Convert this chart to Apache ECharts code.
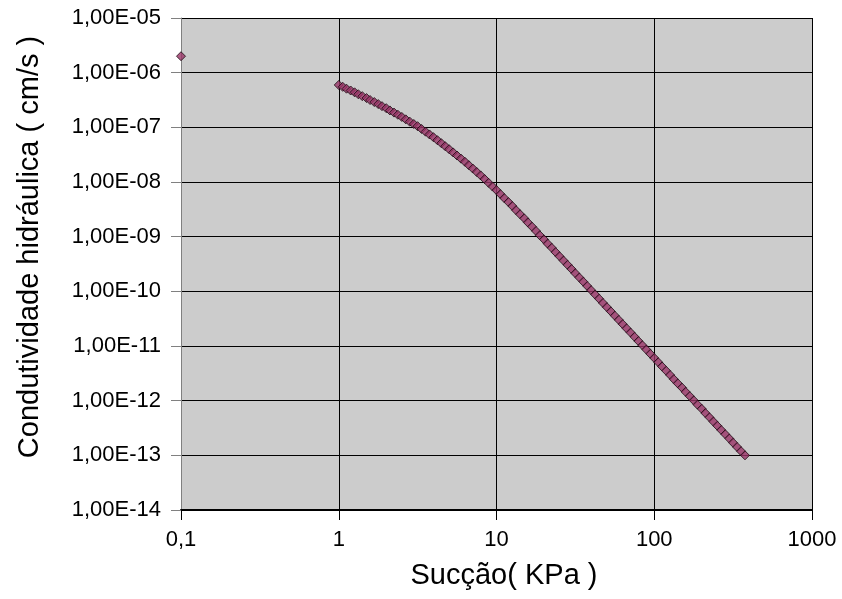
<!DOCTYPE html>
<html>
<head>
<meta charset="utf-8">
<script src="https://cdn.jsdelivr.net/npm/echarts@6/dist/echarts.min.js"></script>
<style>html,body{margin:0;padding:0;background:#fff}#c{width:842px;height:599px}</style>
</head>
<body>
<div id="c"></div>
<script>
// Suction (KPa)
const suction = [0.1,
  1.00, 1.06, 1.12, 1.19, 1.26, 1.33, 1.41, 1.50, 1.58, 1.68, 1.78, 1.88, 2.00, 2.11, 2.24, 2.37, 2.51, 2.66, 2.82, 2.99,
  3.16, 3.35, 3.55, 3.76, 3.98, 4.22, 4.47, 4.73, 5.01, 5.31, 5.62, 5.96, 6.31, 6.68, 7.08, 7.50, 7.94, 8.41, 8.91, 9.44,
  10.0, 10.6, 11.2, 11.9, 12.6, 13.3, 14.1, 15.0, 15.8, 16.8, 17.8, 18.8, 20.0, 21.1, 22.4, 23.7, 25.1, 26.6, 28.2, 29.9,
  31.6, 33.5, 35.5, 37.6, 39.8, 42.2, 44.7, 47.3, 50.1, 53.1, 56.2, 59.6, 63.1, 66.8, 70.8, 75.0, 79.4, 84.1, 89.1, 94.4,
  100, 106, 112, 119, 126, 133, 141, 150, 158, 168, 178, 188, 200, 211, 224, 237, 251, 266, 282, 299,
  316, 335, 355, 376];
// Hydraulic conductivity (cm/s)
const conductivity = [2.0e-6,
  5.96e-7, 5.51e-7, 5.09e-7, 4.72e-7, 4.37e-7, 4.03e-7, 3.72e-7, 3.43e-7, 3.16e-7, 2.90e-7, 2.66e-7, 2.44e-7, 2.24e-7, 2.04e-7, 1.86e-7, 1.70e-7, 1.55e-7, 1.40e-7, 1.27e-7, 1.15e-7,
  1.05e-7, 9.33e-8, 8.32e-8, 7.41e-8, 6.61e-8, 5.82e-8, 5.13e-8, 4.52e-8, 3.98e-8, 3.48e-8, 3.05e-8, 2.67e-8, 2.34e-8, 2.03e-8, 1.76e-8, 1.52e-8, 1.32e-8, 1.13e-8, 9.66e-9, 8.26e-9,
  7.08e-9, 5.98e-9, 5.07e-9, 4.29e-9, 3.63e-9, 3.05e-9, 2.57e-9, 2.16e-9, 1.82e-9, 1.52e-9, 1.27e-9, 1.06e-9, 8.91e-10, 7.45e-10, 6.24e-10, 5.21e-10, 4.37e-10, 3.65e-10, 3.05e-10, 2.55e-10,
  2.14e-10, 1.79e-10, 1.50e-10, 1.25e-10, 1.05e-10, 8.75e-11, 7.33e-11, 6.12e-11, 5.13e-11, 4.29e-11, 3.59e-11, 3.00e-11, 2.51e-11, 2.10e-11, 1.76e-11, 1.47e-11, 1.23e-11, 1.03e-11, 8.61e-12, 7.19e-12,
  6.03e-12, 5.04e-12, 4.22e-12, 3.52e-12, 2.95e-12, 2.47e-12, 2.07e-12, 1.73e-12, 1.45e-12, 1.21e-12, 1.01e-12, 8.45e-13, 7.08e-13, 5.92e-13, 4.95e-13, 4.14e-13, 3.47e-13, 2.90e-13, 2.43e-13, 2.03e-13,
  1.70e-13, 1.42e-13, 1.19e-13, 1.00e-13];

const xTickLabels = ['0,1', '1', '10', '100', '1000'];
const yTickLabels = ['1,00E-14', '1,00E-13', '1,00E-12', '1,00E-11', '1,00E-10', '1,00E-09', '1,00E-08', '1,00E-07', '1,00E-06', '1,00E-05'];
const xTitle = 'Sucção( KPa )';
const yTitle = 'Condutividade hidráulica ( cm/s )';

const FONT = "'Liberation Sans', Arial, sans-serif";
const chart = echarts.init(document.getElementById('c'), null, {renderer: 'canvas'});
const data = suction.map((x, i) => [x, conductivity[i]]);

chart.setOption({
  backgroundColor: '#ffffff',
  animation: false,
  grid: {left: 181, right: 30, top: 18, bottom: 89, show: true, backgroundColor: '#cccccc', borderWidth: 0},
  xAxis: {
    type: 'log', logBase: 10, min: 0.1, max: 1000,
    name: xTitle, nameLocation: 'middle', nameGap: 51,
    nameTextStyle: {fontFamily: FONT, fontSize: 29, color: '#000', padding: [0, 0, 0, 15]},
    axisLine: {show: true, onZero: false, lineStyle: {color: '#000', width: 2}},
    axisTick: {show: true, length: 10, lineStyle: {color: '#000', width: 1}},
    axisLabel: {fontFamily: FONT, fontSize: 22, color: '#000', margin: 19,
      formatter: v => xTickLabels[Math.round(Math.log10(v)) + 1]},
    splitLine: {show: true, lineStyle: {color: '#000', width: 1}}
  },
  yAxis: {
    type: 'log', logBase: 10, min: 1e-14, max: 1e-5, splitNumber: 9,
    name: yTitle, nameLocation: 'middle', nameGap: 137,
    nameTextStyle: {fontFamily: FONT, fontSize: 29, color: '#000', padding: [0, 0, 0, 34]},
    axisLine: {show: true, lineStyle: {color: '#808080', width: 1}},
    axisTick: {show: true, length: 10, lineStyle: {color: '#808080', width: 1}},
    axisLabel: {fontFamily: FONT, fontSize: 22, color: '#000', margin: 20,
      formatter: v => yTickLabels[Math.round(Math.log10(v)) + 14]},
    splitLine: {show: true, lineStyle: {color: '#000', width: 1}}
  },
  series: [{
    type: 'scatter',
    data: data,
    symbol: 'diamond',
    symbolSize: 9,
    itemStyle: {color: '#993366', borderColor: '#1a0a12', borderWidth: 1},
    clip: false
  }]
});
</script>
</body>
</html>
